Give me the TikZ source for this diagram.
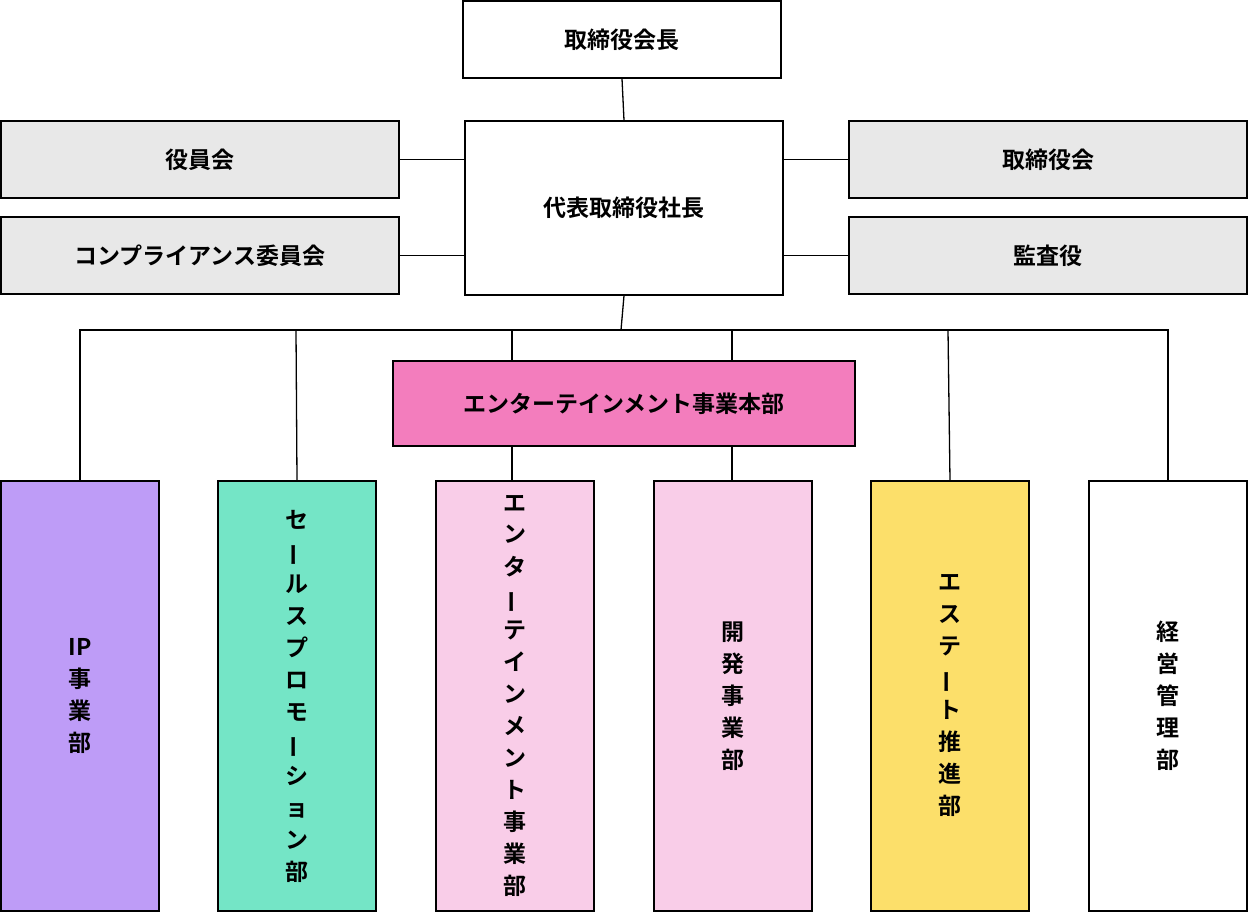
\documentclass[tikz,border=0pt]{standalone}
\usepackage{fontspec}
\setmainfont{Noto Sans CJK JP}[BoldFont=* Bold]
\usepackage{graphicx}
\newcommand{\tate}{\rotatebox[origin=c]{90}{ー}}
\definecolor{gr}{HTML}{E8E8E8}
\definecolor{pk}{HTML}{F37DBD}
\definecolor{lpk}{HTML}{F9CDE8}
\definecolor{pu}{HTML}{BE9CF7}
\definecolor{gn}{HTML}{74E5C6}
\definecolor{ye}{HTML}{FCDF6A}
\begin{document}
\begin{tikzpicture}[x=1pt,y=-1pt,
 bx/.style={draw=black,line width=1.3pt,font=\bfseries\fontsize{23}{31}\selectfont,align=center,inner sep=0pt},
 ln/.style={line width=1.3pt}]
\useasboundingbox (0,0) rectangle (1248,912);
\newcommand{\B}[6]{\node[bx,fill=#5,minimum width=#3-#1,minimum height=#4-#2] (#6) at ({(#1+#3)/2},{(#2+#4)/2}) {};}
\B{463}{1}{781}{78}{white}{chair}
\B{465}{121}{783}{295}{white}{pres}
\B{1}{121}{399}{198}{gr}{yaku}
\B{1}{217}{399}{294}{gr}{comp}
\B{849}{121}{1247}{198}{gr}{tori}
\B{849}{217}{1247}{294}{gr}{kansa}
\B{393}{361}{855}{446}{pk}{ent}
\B{1}{481}{159}{911}{pu}{d1}
\B{218}{481}{376}{911}{gn}{d2}
\B{436}{481}{594}{911}{lpk}{d3}
\B{654}{481}{812}{911}{lpk}{d4}
\B{871}{481}{1029}{911}{ye}{d5}
\B{1089}{481}{1247}{911}{white}{d6}
\tikzset{tx/.style={font=\bfseries\fontsize{23}{32}\selectfont,align=center,inner sep=0pt}}
\node[tx] at (chair) {取締役会長};
\node[tx] at (pres) {代表取締役社長};
\node[tx] at (yaku) {役員会};
\node[tx] at (comp) {コンプライアンス委員会};
\node[tx] at (tori) {取締役会};
\node[tx] at (kansa) {監査役};
\node[tx] at (ent) {エンターテインメント事業本部};
\node[tx] at (d1) {IP\\事\\業\\部};
\node[tx] at (d2) {セ\\\tate\\ル\\ス\\プ\\ロ\\モ\\\tate\\シ\\ョ\\ン\\部};
\node[tx] at (d3) {エ\\ン\\タ\\\tate\\テ\\イ\\ン\\メ\\ン\\ト\\事\\業\\部};
\node[tx] at (d4) {開\\発\\事\\業\\部};
\node[tx] at (d5) {エ\\ス\\テ\\\tate\\ト\\推\\進\\部};
\node[tx] at (d6) {経\\営\\管\\理\\部};
\coordinate (bus) at (621,330);
\draw[ln] (chair.south) -- (pres.north);
\draw[ln] (yaku.east) -- (pres.west |- yaku.east);
\draw[ln] (comp.east) -- (pres.west |- comp.east);
\draw[ln] (tori.west) -- (pres.east |- tori.west);
\draw[ln] (kansa.west) -- (pres.east |- kansa.west);
\draw[ln] (pres.south) -- (bus);
\draw[ln] (d1.north) -- (80,330) -- (1168,330) -- (d6.north);
\draw[ln] (d2.north) -- (296,330);
\draw[ln] (d5.north) -- (948,330);
\draw[ln] (512,330) -- (512,361) (732,330) -- (732,361);
\draw[ln] (512,446) -- (512,481) (732,446) -- (732,481);
\end{tikzpicture}
\end{document}
